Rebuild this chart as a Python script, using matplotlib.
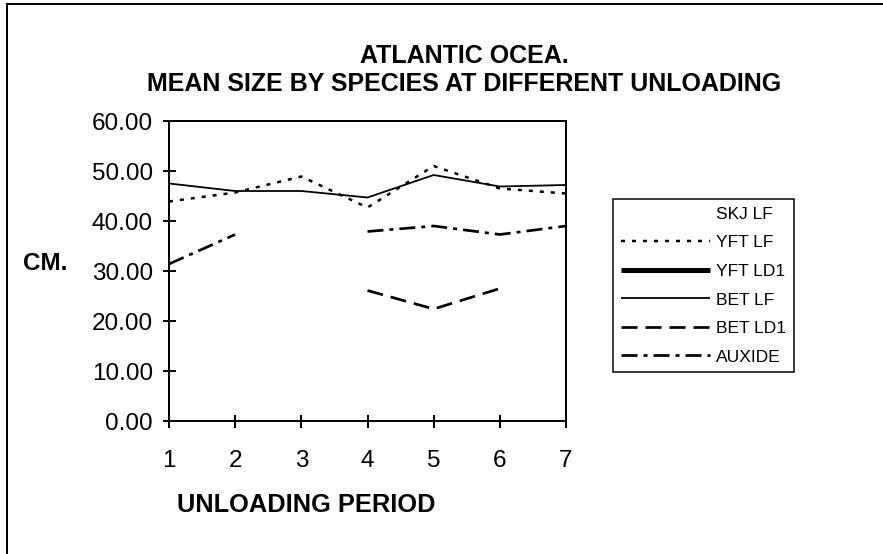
import numpy as np
import matplotlib
matplotlib.use("Agg")
import matplotlib.pyplot as plt
from matplotlib.lines import Line2D

plt.rcParams['font.family'] = ['Liberation Sans', 'DejaVu Sans']
plt.rcParams['lines.scale_dashes'] = False

# ---- data ----
periods = [1, 2, 3, 4, 5, 6, 7]
skj_lf = [np.nan] * 7
yft_lf = [43.9, 45.7, 48.9, 42.7, 51.0, 46.5, 45.5]
yft_ld1 = [np.nan] * 7
bet_lf = [47.5, 46.0, 46.0, 44.7, 49.2, 46.9, 47.2]
bet_ld1 = [np.nan, np.nan, np.nan, 26.1, 22.4, 26.5, np.nan]
auxide = [31.4, 37.3, np.nan, 37.9, 39.0, 37.3, 39.0]
series_names = ["SKJ LF", "YFT LF", "YFT LD1", "BET LF", "BET LD1", "AUXIDE"]
yticks = [0, 10, 20, 30, 40, 50, 60]

title_line1 = "ATLANTIC OCEA."
title_line2 = "MEAN SIZE BY SPECIES AT DIFFERENT UNLOADING"
ylabel = "CM."
xlabel = "UNLOADING PERIOD"

W, H = 883, 554
fig = plt.figure(figsize=(W / 100, H / 100), dpi=100)

def fx(px):
    return px / W

def fy(py):
    return 1 - py / H

ax_l, ax_r, ax_t, ax_b = 169, 566, 121, 421
ax = fig.add_axes([fx(ax_l), fy(ax_b), (ax_r - ax_l) / W, (ax_b - ax_t) / H])

pt = 0.72  # points per pixel
styles = [
    dict(color='white', lw=1.0),
    dict(color='black', lw=2.5 * pt, dashes=(4 * pt, 7 * pt)),
    dict(color='black', lw=5 * pt),
    dict(color='black', lw=1.8 * pt),
    dict(color='black', lw=2.7 * pt, dashes=(16 * pt, 8 * pt)),
    dict(color='black', lw=2.7 * pt, dashes=(16 * pt, 6 * pt, 4 * pt, 6 * pt)),
]
data = [skj_lf, yft_lf, yft_ld1, bet_lf, bet_ld1, auxide]
handles = []
for name, vals, st in zip(series_names, data, styles):
    ln, = ax.plot(periods, vals, label=name, solid_capstyle='butt',
                  dash_capstyle='butt', **st)
    handles.append(ln)

ax.set_xlim(1, 7)
ax.set_ylim(0, 60)
ax.set_xticks(periods)
ax.set_yticks(yticks)
ax.set_yticklabels([f"{v:.2f}" for v in yticks])
for s in ax.spines.values():
    s.set_linewidth(2 * pt)
    s.set_color('black')
ax.tick_params(direction='inout', length=13 * pt, width=2 * pt,
               labelsize=17.5, colors='black')
ax.tick_params(axis='y', pad=6.8)
ax.tick_params(axis='x', pad=16.5)

leg = ax.legend(handles=handles, loc='upper left',
                bbox_to_anchor=(fx(613), fy(199)), bbox_transform=fig.transFigure,
                borderaxespad=0, frameon=True, fancybox=False, edgecolor='black',
                framealpha=1, fontsize=12.5, handlelength=5.13, handletextpad=0.35,
                labelspacing=0.77, borderpad=0.45)
leg.get_frame().set_linewidth(1.5 * pt)

fig.text(fx(464), fy(63), title_line1, ha='center', va='baseline',
         fontsize=18, fontweight='bold')
fig.text(fx(464), fy(91), title_line2, ha='center', va='baseline',
         fontsize=18, fontweight='bold')
fig.text(fx(23), fy(270), ylabel, ha='left', va='baseline',
         fontsize=17.5, fontweight='bold')
fig.text(fx(306), fy(512), xlabel, ha='center', va='baseline',
         fontsize=18.3, fontweight='bold')

# outer chart frame (only left and top edges fall inside the image)
fig.add_artist(Line2D([fx(7), fx(7)], [0, fy(4)], color='black', lw=2 * pt,
                      transform=fig.transFigure))
fig.add_artist(Line2D([fx(7), 1], [fy(4), fy(4)], color='black', lw=2 * pt,
                      transform=fig.transFigure))

fig.savefig("out.png", dpi=100)
